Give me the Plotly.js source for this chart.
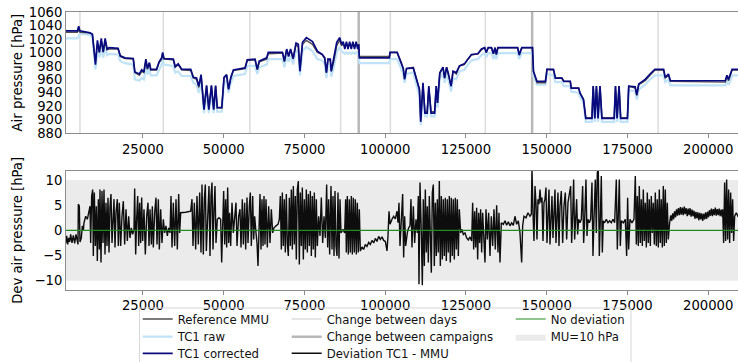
<!DOCTYPE html>
<html><head><meta charset="utf-8">
<script src="https://cdn.plot.ly/plotly-3.0.1.min.js"></script>
<style>html,body{margin:0;padding:0;background:#fff;overflow:hidden;} #chart{width:740px;height:362px;}</style>
</head><body><div id="chart"></div>
<script>
// ---- Top panel: air pressure [hPa] ----
const topX = [
1000,4700,5100,5500,8600,9350,10300,10900,11500,12100,
12700,13300,13900,14500,17300,18000,19400,22000,22500,23900,
24600,25300,25900,26400,27000,27400,29200,30000,30800,31100,
31500,34400,35000,35900,37000,39800,40600,41600,42300,43000,
43900,44700,45400,46200,46900,47500,48000,49400,50100,50900,
51500,52200,53000,56600,57300,59700,60400,61000,63300,63800,
68200,68800,69500,70100,70700,71500,72400,73100,73600,74400,
75600,77500,79000,80500,81300,81800,82300,83000,83300,84000,
85000,85900,86500,87000,87500,88000,88500,89000,89500,90000,
90500,91000,91500,91800,92000,101300,101500,103700,105000,105600,
106000,106600,108700,109800,110600,111000,111700,112300,113000,113500,
114200,115300,115800,116200,116900,117900,118400,119000,119500,120400,
121000,122000,123000,124500,125600,126700,128700,129800,130800,131300,
131900,132900,133500,134000,134400,134900,141000,141500,142300,145600,
145900,147000,149600,150100,152100,152700,154700,155300,157300,157600,
159900,160300,161400,162100,164000,164400,164900,165400,165900,166500,
167100,170900,171300,171800,172400,172900,175000,175400,177400,177900,
178500,180500,182000,183500,186200,186700,187700,188300,205300,205800,
206300,206900,207400,209900];
const refMMU = [
1030,1030,1033,1030,1029,1027,985,1012,1000,1016,
1000,1016,1004,1005,1005,994,991,990,970,966,
972,970,988,975,984,974,974,985,990,998,
990,989,978,982,974,973,962,960,948,966,
916,950,916,950,916,950,918,918,962,966,
946,962,973,976,988,989,974,986,990,998,
999,986,1004,995,1003,990,1012,1008,975,1012,
1018,1012,1000,997,990,970,990,988,972,985,
1010,1018,1010,1013,1009,1013,1009,1013,1009,1013,
1009,1013,1009,1012,994,994,1000,1000,985,976,
962,976,978,960,945,900,952,912,912,948,
912,912,950,925,968,978,962,978,968,950,
972,968,980,982,990,996,998,1004,1007,1000,
1007,1007,998,1007,997,1007,1007,998,1007,1007,
972,955,955,975,974,962,962,957,957,947,
947,940,930,903,903,950,903,950,903,950,
903,903,950,903,950,903,903,950,947,936,
952,958,966,974,974,962,966,957,956,965,
958,966,974,974];
const tc1Raw = [
1021,1021,1023,1028,1026,1022,975,1002,993,1006,
992,1008,996,998,997,987,984,982,960,958,
962,960,980,967,976,966,966,975,982,990,
982,980,970,972,965,965,955,952,940,958,
910,942,910,942,910,942,912,912,953,958,
940,955,965,968,980,980,968,978,982,990,
990,978,995,986,995,982,1003,1000,966,1002,
1008,1002,990,988,982,962,982,980,964,976,
1000,1008,1002,1000,998,1000,998,1000,998,1000,
998,1000,998,1000,984,984,990,990,975,968,
955,968,970,950,935,892,942,905,905,940,
905,905,942,918,960,970,955,970,960,942,
962,960,972,974,982,988,990,996,999,993,
999,999,990,999,990,999,999,990,999,999,
965,952,952,968,966,956,956,950,950,942,
940,934,925,897,897,944,897,944,897,944,
897,897,944,897,944,897,897,944,942,930,
945,952,960,966,966,956,960,951,951,958,
952,958,966,966];
const tc1Corrected = [
1032,1032,1039,1032,1029,1027,982,1018,1000,1021,
1001,1021,1005,1007,1006,995,992,991,971,968,
974,971,990,976,985,975,975,986,992,1000,
991,990,979,983,975,975,963,962,950,967,
915,951,915,951,915,951,918,918,963,967,
945,963,974,977,989,990,975,987,992,1000,
1000,987,1005,994,1005,991,1014,1012,972,1015,
1022,1016,1002,997,992,970,990,990,972,988,
1015,1022,1012,1016,1005,1016,1005,1016,1005,1016,
1005,1016,1005,1012,992,992,1000,1000,983,976,
960,976,977,960,945,897,955,910,910,950,
910,910,950,925,970,978,962,978,970,950,
972,970,980,983,990,997,998,1005,1007,1000,
1007,1007,998,1007,997,1007,1007,996,1007,1007,
972,957,957,975,975,962,962,957,957,947,
947,940,930,902,902,950,902,950,902,950,
902,902,950,902,950,902,902,950,949,937,
953,960,968,975,975,963,968,958,958,966,
960,967,975,975];
const dayChanges = [5500, 31300, 58100, 86200, 101600, 131000, 151100, 184500];
const campaignChanges = [91800, 145500];

// ---- Bottom panel: deviation TC1 - MMU [hPa] ----
const devX = [
763,1073,1383,1692,2002,2311,2621,3034,3447,3860,
4272,4685,4891,4995,5304,5510,5923,6233,6543,6749,
7265,7781,8194,8607,8813,9122,9432,9638,9948,10257,
10567,10877,11187,11496,11702,12012,12322,12631,12941,13251,
13560,13870,14180,14489,14799,15109,15418,15728,16037,16347,
16657,17069,17379,17688,18101,18514,18926,19339,19752,20165,
20578,20991,21403,21816,22229,22435,22745,23054,23364,23674,
23983,24293,24603,24912,25325,25738,26151,26563,26873,27183,
27595,27905,28215,28627,29040,29350,29763,30072,30485,30898,
31311,31724,32136,32549,32962,33375,33684,33994,34407,34820,
35232,35645,36058,36367,36677,38225,39773,40186,40496,40909,
41321,41734,42147,42560,42973,43282,43695,44004,44314,44623,
45036,45449,45759,46068,46378,46687,46997,47307,47616,48029,
48545,49061,49371,49680,49990,50300,50609,50919,51228,51538,
51847,52157,52570,52983,
53808,54118,54634,55047,55356,55769,56079,56492,56801,57214,
57524,57937,58246,58556,58969,59278,59588,60000,60310,60620,
60929,61239,61548,61858,62168,62477,62787,63096,63509,63922,
64335,64748,65160,65573,66192,66812,67224,67534,67844,68153,
68463,68772,69082,69392,69701,70011,70320,70630,70940,71249,
71559,71868,72178,72488,72797,73107,73416,73726,74036,74345,
74655,74964,75274,75584,75893,76203,76512,76822,77132,77441,
77751,78060,78370,78680,78989,79402,79815,80228,80640,81053,
81466,81879,82188,82498,82808,83220,83530,83840,84149,84459,
84768,85078,85388,85697,86007,86316,86936,87452,87761,87968,
88277,88587,88896,89206,89516,89825,90135,90444,90754,91064,
91373,91683,91992,92302,92818,93334,93850,94366,94881,95397,
95913,96429,96946,97462,97978,98494,99010,99526,100042,100558,
100868,101177,101487,101796,102106,102622,103138,103654,103964,104273,
104583,
105406,105715,106025,106334,106850,107263,107676,107986,108295,108708,
109121,109534,109946,110256,110462,110772,111185,111494,111804,112114,
112423,112733,113042,113352,113662,113971,114281,114590,114900,115210,
115519,115829,116138,116448,116758,117067,117377,117686,117996,118306,
118615,118925,119234,119544,119854,120163,120473,120782,121092,121402,
121711,122021,122330,122640,122950,123362,123775,124188,124704,125220,
125736,126252,126768,127078,127387,127697,128006,128316,128626,128935,
129245,129554,129864,130174,130586,130896,131206,131618,132031,132444,
132857,133270,133682,134095,134508,134921,135230,135540,135953,136572,
137088,137604,138120,138636,139152,139668,140184,140700,141216,141732,
142248,142558,142970,143590,144209,144828,145241,145447,145757,146066,
146376,146686,146995,147305,147614,147924,148234,148543,148853,149162,
149472,149782,150091,150401,150710,151020,151330,151639,151949,152258,
152568,152878,153187,153497,153806,154116,154529,154942,155354,155767,
156180,156593,
157416,157725,158035,158344,158654,158964,159273,159583,159892,160305,
160718,161131,161440,161750,162163,162472,162782,163195,163608,164020,
164330,164640,165052,165362,165672,165981,166291,166600,166910,167220,
167529,167942,168458,168974,169490,170006,170522,171038,171554,171864,
172173,172483,172792,173102,173721,174340,174753,175063,175372,175785,
176404,177024,177436,177746,178056,178365,178675,178984,179294,179604,
179913,180223,180532,180842,181152,181461,181771,182080,182390,182700,
183009,183319,183628,183938,184248,184557,184867,185176,185486,185796,
186105,186415,186724,187034,187344,187653,
188066,188400,188700,189000,189300,189600,189900,190200,190500,190800,
191100,191400,191700,192000,192300,192600,192900,193200,193500,193800,
194100,194400,194700,195000,195300,195600,195900,196200,196500,196800,
197100,197400,197700,198000,198300,198600,198900,199200,199500,199800,
200100,200400,200700,201000,201300,201600,201900,202200,202500,202800,
203100,203400,203700,204000,204300,204475,
204784,205094,205404,205713,206023,206332,206642,206952,207261,207571,
207880,208190,208706,209222,209850];
const devY = [
-1.5,-2.6,-1.1,-2.8,-1.5,-2.3,-0.8,-2.5,-1.0,-2.6,
-0.8,-2.1,-2.8,5.2,4.8,-2.3,-1.5,0.9,-0.1,1.5,
2.8,2.2,3.5,4.8,-2.5,6.8,8.1,-5.1,7.5,-3.1,
4.8,-6.1,6.2,-3.8,8.1,-6.4,7.8,-2.5,8.1,-4.8,
5.5,-3.1,6.5,-4.4,4.8,7.2,-2.5,4.2,6.2,-3.4,
3.5,6.2,-3.1,5.5,-3.1,2.8,5.8,-2.8,4.2,-2.1,
2.8,-1.5,0.5,-0.8,0.2,8.3,-4.8,2.2,6.8,-3.1,
5.5,-2.5,6.5,-2.1,4.2,-4.8,2.8,5.5,-3.1,4.2,
-2.8,4.8,-3.4,3.5,6.5,-2.8,6.2,-3.8,4.2,-2.5,
2.2,-0.5,0.9,-1.1,0.5,-0.5,6.8,-3.4,5.5,-3.1,
6.2,-3.8,7.2,-0.5,3.5,3.6,3.8,6.2,-3.1,5.5,
-3.8,6.8,-2.8,7.5,-4.4,9.1,-4.8,6.2,9.1,-4.1,
4.8,8.8,-5.1,6.8,9.5,-3.8,4.2,8.8,-2.5,2.2,
2.5,2.2,-6.4,4.8,7.8,-2.8,6.2,-3.4,8.5,-2.5,
3.5,-3.1,5.5,-0.5,
5.5,-3.1,2.8,4.2,-3.4,6.2,-2.8,5.5,-3.8,6.5,
-2.5,4.8,7.5,-3.1,6.8,-1.8,2.8,-0.5,-2.5,-7.1,
2.2,7.2,-3.8,6.2,-3.1,6.8,-2.8,6.2,-3.4,4.8,
-2.5,4.2,-0.5,0.5,0.9,1.2,2.2,6.8,-3.8,7.5,
-3.1,6.2,-4.4,7.2,-2.5,-5.1,6.5,-3.1,8.1,-3.8,
8.8,-2.8,6.8,-5.8,8.1,9.8,-6.8,7.5,-3.1,8.5,
-5.8,6.2,-3.8,8.1,-4.4,7.2,-3.1,7.8,-5.1,6.8,
-3.8,7.5,-5.4,6.2,-3.1,2.8,-1.1,6.5,-2.5,2.8,
-1.5,9.1,-3.4,6.2,-4.8,8.8,-3.8,6.8,-5.1,7.8,
-3.1,-5.1,7.5,-5.6,6.2,-0.5,0.2,-0.5,6.2,-4.4,
6.8,-4.8,6.2,-4.4,6.8,-4.8,6.5,-4.4,6.2,-4.8,
5.5,-4.4,4.2,-4.1,-3.3,-3.8,-2.8,-3.2,-2.4,-2.8,
-2.0,-2.5,-1.6,-2.2,-1.2,-1.8,-1.3,-2.0,-2.2,-4.1,
-1.1,3.8,1.2,1.9,2.2,2.8,2.3,3.8,1.5,5.5,
-3.1,
7.2,-5.4,2.8,-3.1,-0.5,0.5,0.9,6.2,-3.4,4.8,
-2.5,2.2,-0.5,6.8,-10.7,9.5,-0.5,-10.9,6.2,-7.1,
8.1,-4.4,4.8,-6.4,6.8,-3.8,-8.4,7.5,9.1,-7.1,
5.5,-5.1,6.2,-4.4,9.8,-7.1,6.8,-5.8,6.2,-5.1,
6.5,-6.1,6.2,-4.4,6.8,-6.4,6.5,-5.1,6.2,-5.8,
6.5,-3.8,6.2,-5.1,4.2,-0.5,0.2,-0.8,-0.5,-1.5,
-1.9,-1.3,-2.1,5.5,-3.8,3.8,-3.4,4.5,-5.8,3.5,
-2.5,4.2,-4.4,3.5,-2.5,-6.4,4.2,-1.8,3.5,-5.1,
2.8,-3.1,4.2,-3.8,5.0,-4.4,3.5,-6.4,1.5,1.2,
1.9,1.0,1.7,0.9,1.5,1.0,2.8,1.2,1.9,-0.5,
-6.4,0.9,2.8,2.5,3.5,2.8,3.2,12.4,3.5,-2.1,
8.8,5.5,-1.8,6.2,5.2,8.1,5.5,6.5,-2.1,5.5,
6.2,8.5,-2.5,5.5,8.1,-2.8,4.8,6.8,-1.5,5.5,
8.1,-2.5,5.2,7.5,-3.1,4.8,7.8,-2.5,4.8,7.5,
-1.8,5.5,
8.8,-2.5,2.8,10.1,-1.8,1.9,6.2,-0.8,2.2,1.5,
2.2,8.8,-2.5,1.9,10.1,-1.1,2.2,1.5,2.2,9.5,
-5.1,2.2,10.1,-0.5,11.5,12.1,-5.1,2.2,10.8,-4.4,
1.9,1.5,2.2,1.5,1.9,1.5,2.2,1.5,10.1,-3.8,
2.2,10.1,-3.1,1.9,1.5,2.2,-5.1,6.5,-3.8,2.2,
1.5,2.2,10.8,-2.8,6.8,-3.1,8.8,-2.5,6.2,-3.1,
8.1,-2.1,5.5,-3.4,7.5,-2.5,6.2,-3.1,6.8,-0.5,
5.5,-2.8,7.5,-3.1,6.2,-3.4,8.1,-2.5,6.2,-3.4,
8.8,-3.1,8.1,-2.5,5.5,-1.8,
1.5,3.0,1.9,3.4,2.2,3.8,2.6,4.2,2.9,4.4,
3.0,4.6,3.1,4.5,3.0,4.7,3.2,4.4,2.8,4.3,
3.0,4.4,2.7,4.1,2.8,3.9,2.3,3.7,2.4,3.6,
2.0,3.5,2.2,3.4,1.9,3.3,2.2,3.6,2.3,3.7,
2.6,4.0,2.9,4.3,2.8,4.2,3.0,4.5,2.9,4.2,
3.0,4.3,2.8,4.1,2.7,4.2,
-2.5,9.5,-2.1,10.1,-1.8,8.1,-2.5,7.5,-0.5,6.2,
-2.1,2.8,3.5,2.8,3.0];
const MU = 10;

const X_RANGE = [1176, 209850];
const P_RANGE = [880, 1060];
const D_RANGE = [-11.85, 11.85];

function vlines(xs) {
  const x = [], y = [];
  xs.forEach(v => { x.push(v, v, null); y.push(P_RANGE[0], P_RANGE[1], null); });
  return {x, y};
}
const dl = vlines(dayChanges), cl = vlines(campaignChanges);

const traces = [
  {x: dl.x, y: dl.y, name: 'Change between days', mode: 'lines', line: {color: '#dcdcdc', width: 1.5},
   xaxis: 'x', yaxis: 'y', legend: 'legend4'},
  {x: cl.x, y: cl.y, name: 'Change between campaigns', mode: 'lines', line: {color: '#b8b8b8', width: 2.5},
   xaxis: 'x', yaxis: 'y', legend: 'legend5'},
  {x: topX, y: tc1Raw, name: 'TC1 raw', mode: 'lines', line: {color: '#c0e3f8', width: 2.2},
   xaxis: 'x', yaxis: 'y', legend: 'legend2'},
  {x: topX, y: refMMU, name: 'Reference MMU', mode: 'lines', line: {color: '#505050', width: 1.4},
   xaxis: 'x', yaxis: 'y', legend: 'legend'},
  {x: topX, y: tc1Corrected, name: 'TC1 corrected', mode: 'lines', line: {color: '#0a0a80', width: 1.7},
   xaxis: 'x', yaxis: 'y', legend: 'legend3'},
  {x: [X_RANGE[0], X_RANGE[1], X_RANGE[1], X_RANGE[0], X_RANGE[0]], y: [-MU, -MU, MU, MU, -MU],
   name: 'MU=10 hPa', mode: 'lines', fill: 'toself', fillcolor: '#ebebeb', line: {width: 0, color: '#ebebeb'},
   xaxis: 'x2', yaxis: 'y2', legend: 'legend8'},
  {x: devX, y: devY, name: 'Deviation TC1 - MMU', mode: 'lines', line: {color: '#0d0d0d', width: 1.4},
   xaxis: 'x2', yaxis: 'y2', legend: 'legend6'},
  {x: X_RANGE, y: [0, 0], name: 'No deviation', mode: 'lines', line: {color: '#238b23', width: 1.2},
   xaxis: 'x2', yaxis: 'y2', legend: 'legend7'}
];

const spine = '#8c8c8c';
const axBase = {showline: true, linecolor: spine, linewidth: 1, mirror: true, ticks: 'outside',
  ticklen: 3.5, tickcolor: spine, showgrid: false, zeroline: false,
  tickfont: {family: 'DejaVu Sans', size: 13.2, color: '#000'}};
const yBase = Object.assign({}, axBase, {ticks: ''});

// legend grid (3 columns x 3 rows), paper coordinates
const colX = [0.1064, 0.3274, 0.6598];
const rowY = [-0.1043, -0.168, -0.2277];
function leg(c, r) {
  return {x: colX[c], y: rowY[r], xanchor: 'left', yanchor: 'middle', bgcolor: 'rgba(0,0,0,0)',
    borderwidth: 0, font: {family: 'DejaVu Sans', size: 11.7, color: '#111'}};
}

const layout = {
  width: 740, height: 362,
  margin: {l: 66, r: 0, t: 12, b: 72, autoexpand: false},
  paper_bgcolor: '#fff', plot_bgcolor: '#fff',
  font: {family: 'DejaVu Sans', size: 13.2, color: '#000'},
  showlegend: true,
  xaxis: Object.assign({}, axBase, {domain: [0, 1], anchor: 'y', range: X_RANGE, tick0: 0, dtick: 25000, tickformat: 'd'}),
  yaxis: Object.assign({}, yBase, {domain: [0.5637, 1], anchor: 'x', range: P_RANGE, tick0: 880, dtick: 20,
    title: {text: 'Air pressure [hPa]', standoff: 3, font: {family: 'DejaVu Sans', size: 13.2, color: '#000'}}}),
  xaxis2: Object.assign({}, axBase, {domain: [0, 1], anchor: 'y2', range: X_RANGE, tick0: 0, dtick: 25000, tickformat: 'd'}),
  yaxis2: Object.assign({}, yBase, {domain: [0, 0.4291], anchor: 'x2', range: D_RANGE, tick0: 0, dtick: 5,
    title: {text: 'Dev air pressure [hPa]', standoff: 8.5, font: {family: 'DejaVu Sans', size: 13.2, color: '#000'}}}),
  legend: leg(0, 0), legend2: leg(0, 1), legend3: leg(0, 2),
  legend4: leg(1, 0), legend5: leg(1, 1), legend6: leg(1, 2),
  legend7: leg(2, 0), legend8: leg(2, 1),
  shapes: [{type: 'rect', xref: 'paper', yref: 'paper', x0: 0.1091, x1: 0.8383, y0: -0.0647, y1: -0.32,
    line: {color: '#d6d6d6', width: 1}, fillcolor: 'rgba(0,0,0,0)', layer: 'above'}]
};

Plotly.newPlot('chart', traces, layout, {displayModeBar: false, staticPlot: true});
</script>
</body></html>
